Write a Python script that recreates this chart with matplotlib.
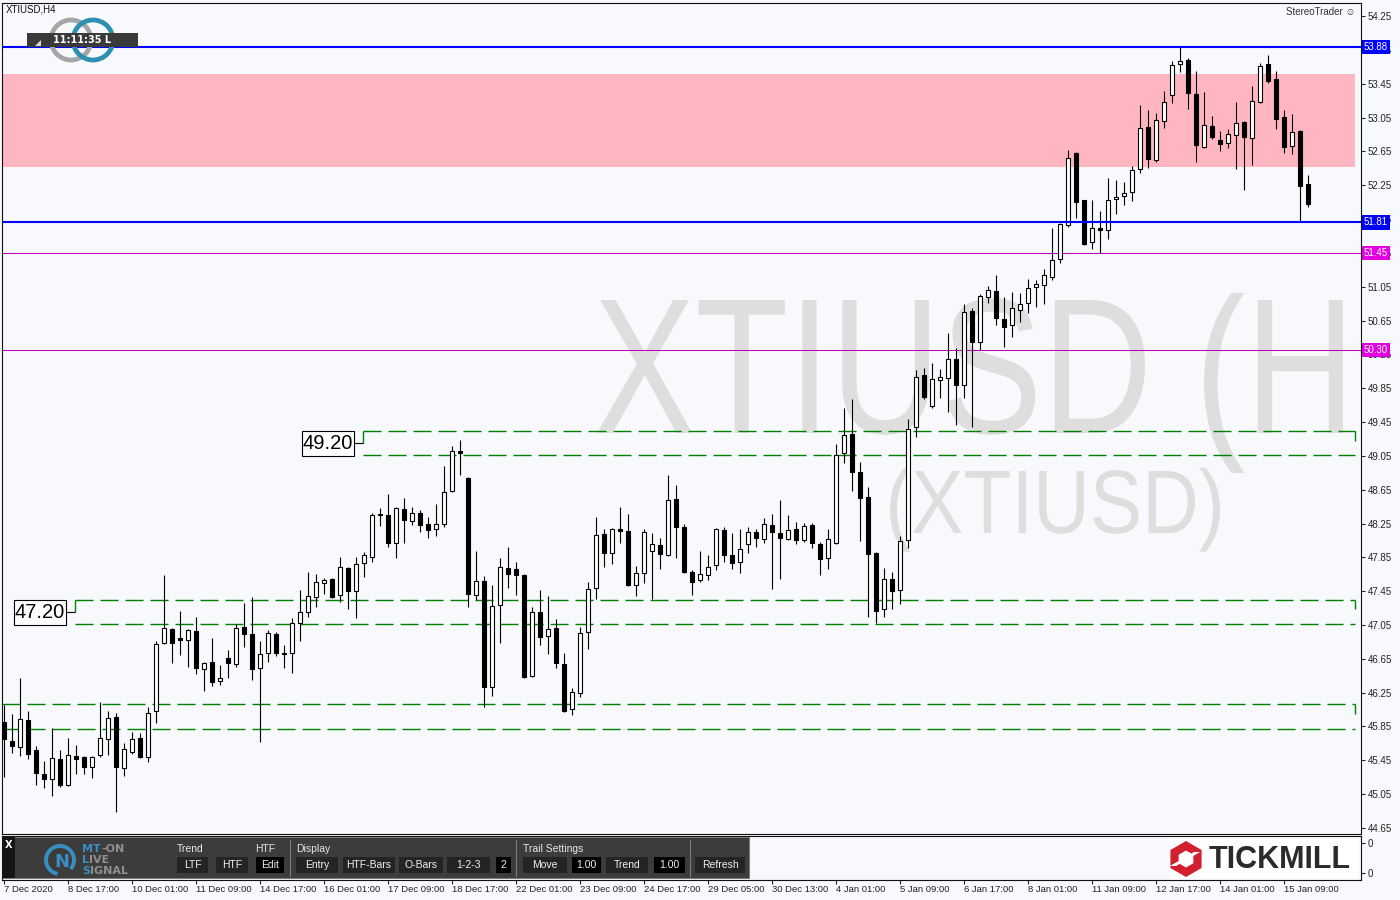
import numpy as np
import matplotlib
matplotlib.use("Agg")
import matplotlib.pyplot as plt
from matplotlib.patches import Rectangle, Circle, Polygon, PathPatch, RegularPolygon, Wedge
from matplotlib.textpath import TextPath
from matplotlib.font_manager import FontProperties
from matplotlib.transforms import Affine2D, blended_transform_factory

# ------------------------------------------------------------------ data
symbol = "XTIUSD,H4"
date_labels = ["7 Dec 2020", "8 Dec 17:00", "10 Dec 01:00", "11 Dec 09:00", "14 Dec 17:00",
               "16 Dec 01:00", "17 Dec 09:00", "18 Dec 17:00", "22 Dec 01:00", "23 Dec 09:00",
               "24 Dec 17:00", "29 Dec 05:00", "30 Dec 13:00", "4 Jan 01:00", "5 Jan 09:00",
               "6 Jan 17:00", "8 Jan 01:00", "11 Jan 09:00", "12 Jan 17:00", "14 Jan 01:00",
               "15 Jan 09:00"]
bars_per_label = 8

opens = [45.90, 45.68, 45.61, 45.93, 45.57, 45.29, 45.23, 45.47, 45.16, 45.50,
         45.49, 45.37, 45.51, 45.70, 45.96, 45.36, 45.55, 45.71, 45.49, 46.03,
         46.84, 47.00, 46.90, 46.87, 46.98, 46.53, 46.61, 46.39, 46.66, 46.59,
         47.03, 46.94, 46.54, 46.72, 46.94, 46.71, 46.72, 47.07, 47.20, 47.38,
         47.55, 47.59, 47.40, 47.72, 47.45, 47.78, 47.85, 48.35, 48.35, 48.02,
         48.42, 48.28, 48.37, 48.24, 48.19, 48.24, 48.63, 49.11, 48.79, 47.40,
         47.57, 46.32, 47.29, 47.72, 47.71, 47.64, 46.45, 47.20, 46.92, 47.01,
         46.59, 46.06, 46.25, 46.97, 47.49, 48.13, 47.90, 48.19, 48.16, 47.52,
         47.66, 47.92, 48.00, 47.88, 48.54, 48.21, 47.68, 47.58, 47.64, 47.76,
         48.17, 47.88, 47.80, 48.01, 48.15, 48.07, 48.23, 48.14, 48.07, 48.19,
         48.05, 48.23, 48.01, 47.84, 48.02, 49.08, 49.31, 48.86, 48.56, 47.90,
         47.24, 47.59, 47.46, 48.05, 49.39, 50.01, 49.64, 49.95, 49.97, 50.19,
         49.89, 50.76, 50.40, 50.93, 51.00, 50.67, 50.60, 50.77, 50.86, 51.05,
         51.07, 51.16, 51.38, 51.78, 52.63, 52.07, 51.58, 51.74, 51.72, 52.09,
         52.12, 52.17, 52.44, 52.94, 52.55, 53.01, 53.32, 53.68, 53.73, 53.33,
         52.70, 52.95, 52.78, 52.75, 52.84, 53.00, 52.81, 53.23, 53.68, 53.51,
         53.06, 52.71, 52.89, 52.26]
highs = [46.10, 46.00, 46.42, 46.03, 45.62, 45.44, 45.83, 45.57, 45.71, 45.63,
         45.50, 45.50, 46.14, 46.03, 46.01, 45.66, 45.78, 45.77, 46.08, 46.86,
         47.64, 47.01, 47.21, 47.00, 47.14, 46.61, 46.90, 46.58, 46.75, 47.06,
         47.31, 47.38, 46.86, 46.99, 46.97, 46.81, 47.13, 47.46, 47.68, 47.65,
         47.61, 47.60, 47.85, 47.74, 47.85, 47.91, 48.37, 48.43, 48.60, 48.45,
         48.55, 48.45, 48.41, 48.33, 48.48, 48.93, 49.17, 49.24, 48.80, 47.92,
         47.63, 47.52, 47.84, 47.97, 47.80, 47.65, 47.26, 47.46, 47.39, 47.12,
         46.72, 46.30, 47.03, 47.56, 48.33, 48.19, 48.20, 48.45, 48.36, 47.75,
         48.19, 48.14, 48.08, 48.82, 48.70, 48.24, 47.70, 47.92, 47.88, 48.20,
         48.21, 48.14, 48.19, 48.21, 48.19, 48.31, 48.36, 48.53, 48.35, 48.27,
         48.26, 48.26, 48.03, 48.19, 49.19, 49.61, 49.72, 48.98, 48.68, 47.91,
         47.72, 47.68, 48.10, 49.49, 50.06, 50.09, 50.15, 50.08, 50.50, 50.33,
         50.84, 50.80, 50.96, 51.06, 51.19, 50.93, 50.99, 50.97, 51.14, 51.13,
         51.26, 51.74, 51.80, 52.67, 52.64, 52.08, 52.07, 51.94, 52.34, 52.31,
         52.29, 52.48, 53.20, 53.14, 53.10, 53.36, 53.72, 53.88, 53.75, 53.60,
         53.35, 53.07, 52.89, 52.91, 53.23, 53.01, 53.42, 53.69, 53.79, 53.60,
         53.14, 53.09, 52.90, 52.37]
lows = [45.25, 45.54, 45.50, 45.47, 45.16, 45.12, 45.03, 45.14, 45.15, 45.29,
        45.29, 45.24, 45.49, 45.51, 44.84, 45.26, 45.52, 45.48, 45.43, 45.89,
        46.83, 46.60, 46.70, 46.55, 46.47, 46.27, 46.33, 46.34, 46.42, 46.55,
        46.79, 46.40, 45.67, 46.61, 46.68, 46.54, 46.48, 46.86, 47.14, 47.26,
        47.42, 47.37, 47.32, 47.24, 47.13, 47.62, 47.80, 48.22, 47.97, 47.84,
        48.02, 48.23, 48.15, 48.08, 48.10, 48.21, 48.62, 48.82, 47.26, 47.35,
        46.08, 46.21, 46.84, 47.49, 47.40, 46.42, 46.44, 46.81, 46.71, 46.54,
        46.02, 45.99, 46.20, 46.77, 47.36, 47.74, 47.77, 48.02, 47.51, 47.39,
        47.55, 47.36, 47.71, 47.87, 47.84, 47.67, 47.40, 47.56, 47.58, 47.70,
        47.80, 47.71, 47.66, 47.90, 47.97, 48.02, 47.48, 47.59, 48.05, 48.01,
        48.03, 47.96, 47.64, 47.71, 48.01, 48.97, 48.63, 48.04, 47.14, 47.07,
        47.14, 47.24, 47.30, 47.96, 49.27, 49.72, 49.61, 49.73, 49.57, 49.41,
        49.73, 49.39, 50.30, 50.86, 50.60, 50.34, 50.46, 50.63, 50.74, 50.81,
        50.85, 51.13, 51.33, 51.76, 51.86, 51.54, 51.50, 51.45, 51.61, 51.91,
        52.01, 52.06, 52.39, 52.45, 52.52, 52.93, 53.22, 53.59, 53.15, 52.52,
        52.69, 52.80, 52.65, 52.69, 52.44, 52.19, 52.49, 53.22, 53.46, 52.91,
        52.63, 52.62, 51.81, 51.99]
closes = [45.70, 45.62, 45.94, 45.52, 45.30, 45.23, 45.48, 45.16, 45.51, 45.47,
          45.37, 45.49, 45.71, 45.95, 45.37, 45.58, 45.70, 45.49, 46.01, 46.82,
          47.01, 46.84, 46.87, 46.99, 46.54, 46.60, 46.38, 46.42, 46.60, 47.01,
          46.94, 46.53, 46.71, 46.95, 46.72, 46.72, 47.07, 47.20, 47.39, 47.56,
          47.58, 47.38, 47.74, 47.45, 47.77, 47.88, 48.35, 48.36, 48.02, 48.43,
          48.29, 48.37, 48.23, 48.17, 48.24, 48.62, 49.11, 49.08, 47.42, 47.57,
          46.32, 47.27, 47.74, 47.65, 47.64, 46.43, 47.20, 46.91, 47.00, 46.60,
          46.03, 46.26, 46.95, 47.48, 48.11, 47.90, 48.19, 48.16, 47.52, 47.66,
          48.15, 48.01, 47.89, 48.53, 48.21, 47.68, 47.56, 47.65, 47.74, 48.19,
          47.88, 47.78, 47.95, 48.15, 48.08, 48.24, 48.15, 48.08, 48.17, 48.05,
          48.22, 48.02, 47.83, 48.07, 49.06, 49.30, 48.86, 48.55, 47.89, 47.21,
          47.59, 47.45, 48.04, 49.37, 49.98, 49.75, 49.96, 49.98, 50.19, 49.89,
          50.75, 50.40, 50.94, 51.01, 50.68, 50.57, 50.80, 50.85, 51.03, 51.08,
          51.19, 51.37, 51.79, 52.57, 52.05, 51.55, 51.74, 51.72, 52.07, 52.11,
          52.16, 52.43, 52.93, 52.56, 53.02, 53.23, 53.67, 53.72, 53.34, 52.73,
          52.96, 52.82, 52.74, 52.85, 52.98, 52.82, 53.24, 53.66, 53.48, 53.03,
          52.70, 52.88, 52.24, 52.03]

price_ticks = [44.65, 45.05, 45.45, 45.85, 46.25, 46.65, 47.05, 47.45, 47.85, 48.25,
               48.65, 49.05, 49.45, 49.85, 50.25, 50.65, 51.05, 51.45, 51.85, 52.25,
               52.65, 53.05, 53.45, 53.85, 54.25]
level_lines = [53.88, 51.81]          # blue horizontal levels
alert_lines = [51.45, 50.30]          # thin alert levels
supply_zone = [52.47, 53.56]          # pink zone (bottom, top)
zone_tops = [49.34, 47.35, 46.12]     # green dashed zones
zone_bottoms = [49.06, 47.06, 45.82]
zone_labels = ["49.20", "47.20", None]
zone_start_px = [363, 75, 2]

# ------------------------------------------------------------------ helpers
W, H = 1400, 900
BG = "#f7f9fc"
def xi(px):           # pixel column -> bar index
    return (px - 3.5) / 8.0

fig = plt.figure(figsize=(14, 9), dpi=100, facecolor=BG)
ax = fig.add_axes([2 / W, 1 - 834 / H, 1359 / W, 831 / H], facecolor=BG)
ax2 = fig.add_axes([2 / W, 1 - 880 / H, 1359 / W, 44 / H], facecolor=BG)
ov = fig.add_axes([0, 0, 1, 1], zorder=10)
ov.set_xlim(0, W); ov.set_ylim(H, 0); ov.axis("off")

XL = (xi(2), xi(1361))
ax.set_xlim(*XL); ax2.set_xlim(*XL)
ax.set_ylim(44.579, 54.404)

# ------------------------------------------------------------------ watermark
def path_text(s, ref, x_left, baseline, cap_px, width_px, color="#dedede"):
    fp = FontProperties(family="Liberation Sans")
    tp = TextPath((0, 0), s, size=100, prop=fp)
    ext = TextPath((0, 0), ref, size=100, prop=fp).get_extents()
    cap = TextPath((0, 0), "H", size=100, prop=fp).get_extents()
    sx = width_px / ext.width
    sy = cap_px / cap.height
    tr = Affine2D().scale(sx, sy).translate(x_left - ext.x0 * sx, H - baseline)
    p = PathPatch(tp, transform=tr, facecolor=color, edgecolor="none", zorder=0.5)
    p.set_clip_path(ax.patch)
    ax.add_artist(p)

path_text("XTIUSD (H", "XTIUSD", 597, 433, 133, 548)
path_text("(XTIUSD)", "(XTIUSD)", 890, 533, 62, 330)

# ------------------------------------------------------------------ zones / levels
x_end = xi(1355)
ax.add_patch(Rectangle((XL[0], supply_zone[0]), x_end - XL[0], supply_zone[1] - supply_zone[0],
                       facecolor="#ffb6c1", edgecolor="none", zorder=1))

green = "#008000"
for top, bot, lab, spx in zip(zone_tops, zone_bottoms, zone_labels, zone_start_px):
    x0 = xi(spx)
    ax.hlines([top, bot], x0, x_end, colors=green, lw=1.0, linestyles=(0, (13, 5)), zorder=2)
    ax.vlines(x_end, top - (top - bot) * 0.4, top, colors=green, lw=1.0, zorder=2)
    if lab is not None:
        mid = float(lab)
        ax.vlines(x0, mid, top, colors=green, lw=1.0, zorder=2)
        bw = 52 / 8.0
        bh = 25 * 0.011823
        bx1 = x0 - 9 / 8.0
        ax.hlines(mid, bx1, x0, colors="black", lw=0.8, zorder=6)
        ax.add_patch(Rectangle((bx1 - bw, mid - bh / 2), bw, bh, facecolor="white",
                               edgecolor="black", lw=0.8, zorder=6))
        ax.text(bx1 - bw / 2, mid, lab, ha="center", va="center", fontsize=14.5,
                family="Liberation Sans", color="black", zorder=7)

for v in alert_lines:
    ax.axhline(v, color="#c000c0", lw=0.75, zorder=2)
for v in level_lines:
    ax.axhline(v, color="#0000ff", lw=1.5, zorder=5)

# ------------------------------------------------------------------ candles
o = np.array(opens); hh = np.array(highs); ll = np.array(lows); c = np.array(closes)
idx = np.arange(len(o))
up = c >= o
ax.vlines(idx, ll, hh, color="black", lw=0.8, zorder=3)
bottom = np.minimum(o, c)
height = np.maximum(np.abs(c - o), 0.014)
ax.bar(idx[up], height[up], bottom=bottom[up], width=0.5, facecolor="white",
       edgecolor="black", lw=0.8, zorder=4)
ax.bar(idx[~up], height[~up], bottom=bottom[~up], width=0.5, facecolor="black",
       edgecolor="black", lw=0.8, zorder=4)

# ------------------------------------------------------------------ axes styling
for a in (ax, ax2):
    for s in a.spines.values():
        s.set_linewidth(0.8)
        s.set_color("#111111")
ax.set_xticks([])
ax.yaxis.tick_right()
ax.set_yticks(price_ticks)
ax.set_yticklabels([f"{t:.2f}" for t in price_ticks])
ax.tick_params(axis="y", direction="out", length=3, width=0.8, pad=2,
               labelsize=7, labelcolor="#222222", color="#222222")
for t in ax.get_yticklabels():
    t.set_family("Liberation Sans")

ax2.set_ylim(0, 1)
ax2.yaxis.tick_right()
ax2.set_yticks([0.16, 0.84])
ax2.set_yticklabels(["0", "0"])
ax2.set_xticks(np.arange(len(date_labels)) * bars_per_label)
ax2.set_xticklabels(date_labels)
ax2.tick_params(axis="x", direction="out", length=3, width=0.8, pad=0.5,
                labelsize=6.8, labelcolor="#222222", color="#222222")
ax2.tick_params(axis="y", direction="out", length=3, width=0.8, pad=2,
                labelsize=7, labelcolor="#222222", color="#222222")
for t in ax2.get_xticklabels():
    t.set_ha("left"); t.set_family("Liberation Sans")
for t in ax2.get_yticklabels():
    t.set_family("Liberation Sans")

# right-axis price boxes
bt = blended_transform_factory(ax.transAxes, ax.transData)
for v, col in [(level_lines[0], "#0000ff"), (level_lines[1], "#0000ff"),
               (alert_lines[0], "#e000e0"), (alert_lines[1], "#e000e0")]:
    ax.text(1.0 + 3 / 1359, v, f"{v:.2f}", transform=bt, ha="left", va="center",
            fontsize=7, family="Liberation Sans", color="white", clip_on=False, zorder=20,
            bbox=dict(boxstyle="square,pad=0.22", facecolor=col, edgecolor="none"))

# ------------------------------------------------------------------ top-left / top-right labels
ov.text(6, 10, symbol, fontsize=7, family="Liberation Sans", color="#111111",
        ha="left", va="center")
ov.text(1356, 12, "StereoTrader \u263a", fontsize=7, family=["Liberation Sans", "DejaVu Sans"],
        color="#333333", ha="right", va="center")
ov.add_patch(Circle((71, 40), 20, fill=False, lw=3.4, edgecolor="#a6a6a6"))
ov.add_patch(Circle((93, 40), 20, fill=False, lw=3.4, edgecolor="#2e8fb5"))
ov.add_patch(Rectangle((27, 33), 111, 14, facecolor="#3a3a3a", edgecolor="none"))
ov.add_patch(Polygon([(35, 46), (41, 46), (41, 40)], closed=True, facecolor="#dddddd",
                     edgecolor="none"))
ov.text(82, 40, "11:11:35 L", fontsize=7, family="DejaVu Sans", weight="bold",
        color="white", ha="center", va="center")

# ------------------------------------------------------------------ toolbar
ov.add_patch(Rectangle((3, 837), 746, 41, facecolor="#3c3c3c", edgecolor="#7a7a7a", lw=0.8))
ov.add_patch(Rectangle((3, 837), 12, 41, facecolor="#151515", edgecolor="none"))
ov.text(9, 845, "X", fontsize=7, family="DejaVu Sans", weight="bold", color="white",
        ha="center", va="center")
ov.add_patch(Wedge((60, 860), 16, 100, 400, width=4, facecolor="#3a8dbf", edgecolor="none"))
ov.text(62, 862, "N", fontsize=13, family="DejaVu Sans", weight="bold", color="#3a8dbf",
        ha="center", va="center")
logo_rows = [("MT", "-ON", 849, 19), ("L", "IVE", 860, 7.5), ("S", "IGNAL", 871, 8.3)]
for first, rest, y, dx in logo_rows:
    ov.text(82, y, first, fontsize=8, family="DejaVu Sans", weight="bold", color="#3a8dbf",
            ha="left", va="center")
    ov.text(82 + dx, y, rest, fontsize=8, family="DejaVu Sans", weight="bold", color="#8f8f8f",
            ha="left", va="center")
for txt, x in [("Trend", 177), ("HTF", 255), ("Display", 296), ("Trail Settings", 523)]:
    ov.text(x, 849, txt, fontsize=7.5, family="Liberation Sans", color="#e8e8e8",
            ha="left", va="center")
buttons = [("LTF", 177, 208, "#242424"), ("HTF", 216, 248, "#242424"), ("Edit", 256, 284, "#000000"),
           ("Entry", 296, 338, "#242424"), ("HTF-Bars", 343, 395, "#242424"),
           ("O-Bars", 399, 443, "#242424"), ("1-2-3", 447, 490, "#242424"), ("2", 496, 511, "#000000"),
           ("Move", 523, 567, "#242424"), ("1.00", 572, 601, "#000000"), ("Trend", 606, 648, "#242424"),
           ("1.00", 654, 685, "#000000"), ("Refresh", 695, 745, "#242424")]
for txt, x0, x1, col in buttons:
    ov.add_patch(Rectangle((x0, 857), x1 - x0, 16, facecolor=col, edgecolor="none"))
    ov.text((x0 + x1) / 2, 865.5, txt, fontsize=7.5, family="Liberation Sans", color="#f0f0f0",
            ha="center", va="center")
for x in [290, 516, 690]:
    ov.plot([x, x], [840, 876], color="#7a7a7a", lw=0.8)

# ------------------------------------------------------------------ Tickmill logo
ov.add_patch(Rectangle((1170, 838), 188, 41, facecolor="white", edgecolor="none"))
ov.add_patch(RegularPolygon((1186, 859), numVertices=6, radius=18, orientation=0,
                            facecolor="#d3202e", edgecolor="none"))
ov.add_patch(RegularPolygon((1186, 859), numVertices=6, radius=8.5, orientation=0,
                            facecolor="white", edgecolor="none"))
ov.add_patch(Polygon([(1170, 866), (1176, 866), (1200, 852), (1194, 852)], closed=True,
                     facecolor="white", edgecolor="none"))
ov.text(1209, 860, "TICKMILL", fontsize=22, family="Liberation Sans", weight="bold",
        color="#2b2b2b", ha="left", va="center")

fig.savefig("out.png", dpi=100, facecolor=BG)
